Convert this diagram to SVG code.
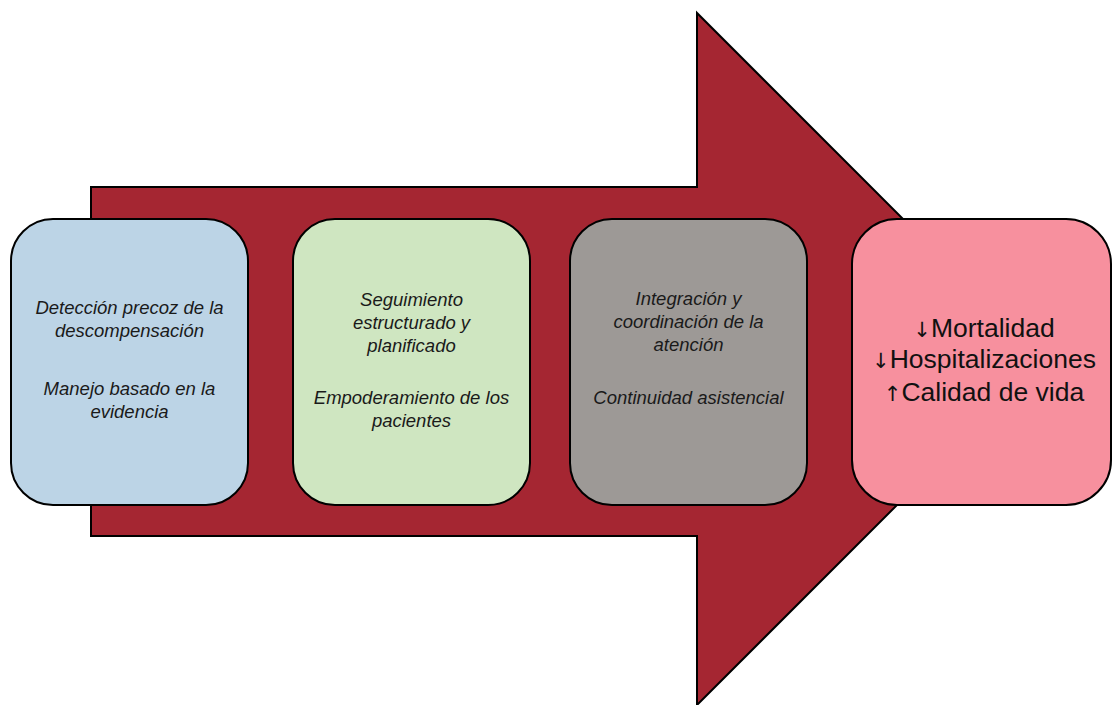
<svg xmlns="http://www.w3.org/2000/svg" width="1112" height="705" viewBox="0 0 1112 705">
<style>
.box{stroke:#000;stroke-width:2}
.t{font-family:"Liberation Sans",Arial,sans-serif;font-size:18.5px;font-style:italic;fill:#1a1a1a;text-anchor:middle}
.r{font-family:"Liberation Sans",Arial,sans-serif;font-size:26.5px;fill:#111;text-anchor:middle}
.a{font-family:"DejaVu Sans",sans-serif;font-size:21px}
</style>
<rect width="1112" height="705" fill="#fff"/>
<g id="arrow">
<polygon points="91,187 697,187 697,13 1043,359 697,705 697,536 91,536" fill="#a52632" stroke="#000" stroke-width="2"/>
</g>
<g id="connectors"></g>
<g id="n1">
<rect class="box" x="11" y="219" width="237" height="286" rx="42" fill="#bcd4e6"/>
<text class="t" x="129.5" y="314">Detección precoz de la</text>
<text class="t" x="129.5" y="337">descompensación</text>
<text class="t" x="129.5" y="395">Manejo basado en la</text>
<text class="t" x="129.5" y="418">evidencia</text>
</g>
<g id="n2">
<rect class="box" x="293" y="219" width="237" height="286" rx="42" fill="#cfe6c1"/>
<text class="t" x="411.5" y="306">Seguimiento</text>
<text class="t" x="411.5" y="329">estructurado y</text>
<text class="t" x="411.5" y="352">planificado</text>
<text class="t" x="411.5" y="404">Empoderamiento de los</text>
<text class="t" x="411.5" y="427">pacientes</text>
</g>
<g id="n3">
<rect class="box" x="570" y="219" width="237" height="286" rx="42" fill="#9d9996"/>
<text class="t" x="688.5" y="305">Integración y</text>
<text class="t" x="688.5" y="328">coordinación de la</text>
<text class="t" x="688.5" y="351">atención</text>
<text class="t" x="688.5" y="404">Continuidad asistencial</text>
</g>
<g id="n4">
<rect class="box" x="852" y="219" width="259" height="286" rx="45" fill="#f7909e"/>
<text class="r" x="984" y="337"><tspan class="a">↓</tspan>Mortalidad</text>
<text class="r" x="984" y="368"><tspan class="a">↓</tspan>Hospitalizaciones</text>
<text class="r" x="984" y="401"><tspan class="a">↑</tspan>Calidad de vida</text>
</g>
</svg>
